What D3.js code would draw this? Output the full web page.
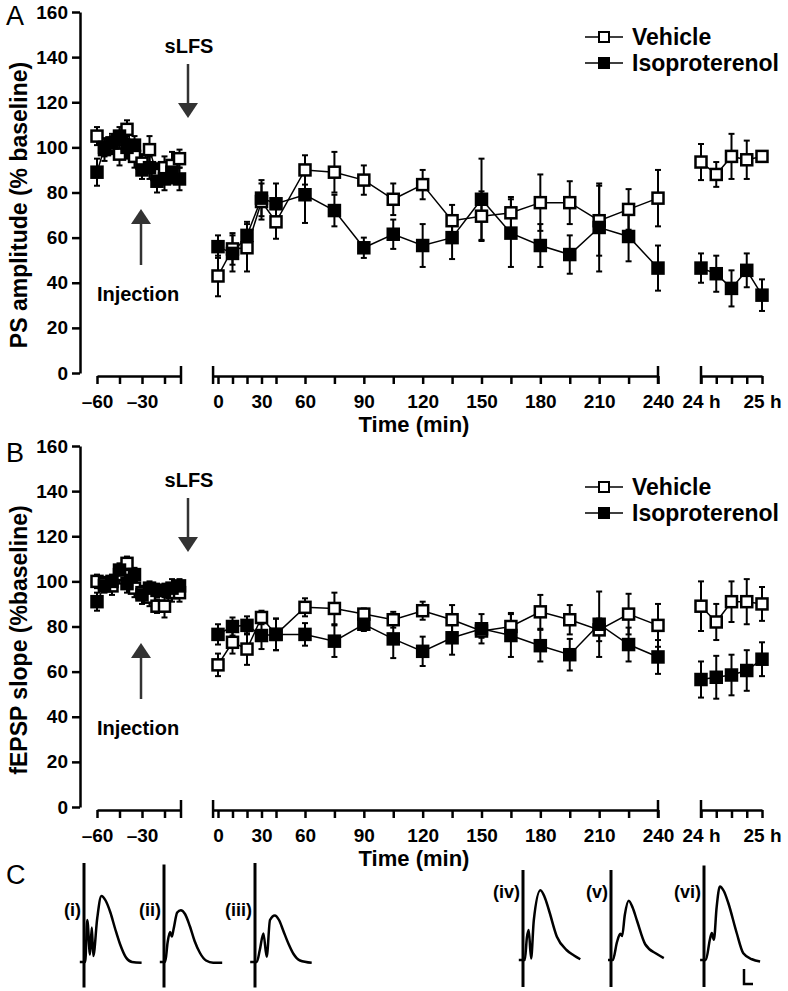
<!DOCTYPE html>
<html>
<head>
<meta charset="utf-8">
<script src="https://cdn.jsdelivr.net/npm/d3@7"></script>
<style>
  body { margin: 0; background: #fff; }
  text { font-family: "Liberation Sans", Arial, sans-serif; }
</style>
</head>
<body>
<svg id="fig" width="788" height="991"></svg>
<script>
// time points (min before injection, min after sLFS, hours after)
const baseTimes = [-60, -55, -50, -45, -40, -35, -30, -25, -20, -15, -10, -5];
const postTimes = [0, 10, 20, 30, 40, 60, 75, 90, 105, 120, 135, 150, 165, 180, 195, 210, 225, 240];
const dayTimes = [24, 24.25, 24.5, 24.75, 25];

// A: PS amplitude (% baseline)
const psVehBase = [105, 99, 101, 97, 108, 96, 93, 99, 88, 91, 92, 95];
const psVehBaseErr = [4, 5, 4, 5, 4, 5, 4, 6, 5, 5, 6, 4];
const psIsoBase = [89, 100, 102, 105, 100, 101, 90, 91, 85, 86, 89, 86];
const psIsoBaseErr = [6, 4, 4, 4, 5, 4, 4, 5, 5, 5, 5, 5];
const psVehPost = [43, 55, 55.5, 76, 67, 90, 89, 85.5, 77, 83.5, 67.5, 69.5, 71, 75.5, 75.5, 67.5, 72.5, 77.5];
const psVehPostErr = [9, 7, 10.5, 8, 7.5, 6.5, 9, 6.5, 7, 6.5, 7, 11, 7, 12.5, 9.5, 15.5, 9, 12.5];
const psIsoPost = [56, 53, 61, 77.5, 75, 79, 72, 55.5, 61.5, 56.5, 60, 77, 62, 56.5, 52.5, 64.5, 60.5, 46.5];
const psIsoPostErr = [5, 8, 6, 8, 9, 12.5, 7, 4.5, 6.5, 9.5, 9.5, 18, 15, 9.5, 8.5, 19.5, 11, 10];
const psVehDay = [93.5, 88, 96, 94.5, 96];
const psVehDayErr = [8, 5.5, 10, 8.5, 2];
const psIsoDay = [46.5, 44, 37.5, 45.5, 34.5];
const psIsoDayErr = [6.5, 8, 8, 7.5, 7];

// B: fEPSP slope (% baseline)
const epVehBase = [100, 99, 98, 103, 108, 97, 95, 93, 89, 89, 95, 95];
const epVehBaseErr = [3, 3, 4, 4, 3, 4, 3, 4, 3, 5, 4, 4];
const epIsoBase = [91, 98, 100, 105, 99, 103, 94, 97, 96, 96, 97, 98];
const epIsoBaseErr = [4, 3, 3, 3, 4, 3, 4, 3, 3, 3, 4, 3];
const epVehPost = [63, 73, 70, 84, 76.5, 88.5, 88, 85.5, 83, 87, 83, 78, 80, 86.5, 83, 78.5, 85.5, 80.5];
const epVehPostErr = [5, 5, 7, 3, 7, 4, 7, 2.5, 3.5, 4, 6.5, 3, 6, 7.5, 6.5, 5, 9, 9.5];
const epIsoPost = [76.5, 80, 80.5, 76, 76.5, 76.5, 73.5, 81, 74.5, 69, 75, 79, 76, 71.5, 67.5, 81, 72, 66.5];
const epIsoPostErr = [4.5, 4, 4, 6, 7, 5, 7, 3, 8.5, 6.5, 7.5, 6.5, 9.5, 7, 7, 14.5, 7.5, 7.5];
const epVehDay = [89, 82, 91, 91, 90];
const epVehDayErr = [11, 8, 9, 10, 7.5];
const epIsoDay = [56.5, 57.5, 58.5, 60.5, 65.5];
const epIsoDayErr = [8, 9.5, 9, 9, 7.5];

const yTicks = [0, 20, 40, 60, 80, 100, 120, 140, 160];
const baseTicks = [-60, -45, -30, -15];
const postTicks = [0, 10, 20, 30, 40, 60, 75, 90, 105, 120, 135, 150, 165, 180, 195, 210, 225, 240];
const dayTicks = [24, 24.25, 24.5, 24.75, 25];
const baseLabels = { "-60": "\u201360", "-30": "\u201330" };
const postLabels = [0, 30, 60, 90, 120, 150, 180, 210, 240];
const dayLabels = { "24": "24 h", "25": "25 h" };

// C: example traces, time (ms) vs voltage (mV)
const traceNames = ["(i)", "(ii)", "(iii)", "(iv)", "(v)", "(vi)"];
const traceT = [
  [-0.7, 0.2, 0.55, 1.0, 1.3, 1.55, 2.2, 2.9, 3.6, 4.4, 5.2, 6.0, 7.0, 8.0, 9.6],
  [-0.7, 0.2, 0.6, 1.0, 1.3, 1.6, 2.2, 2.8, 3.5, 4.3, 5.1, 6.0, 7.0, 8.2, 9.7],
  [-0.8, 0.3, 0.8, 1.4, 1.95, 2.5, 3.3, 4.0, 4.7, 5.6, 6.4, 7.5, 9.45],
  [-0.7, 0.3, 0.65, 0.95, 1.35, 1.8, 2.9, 3.6, 4.3, 5.65, 7.3, 8.5, 9.55],
  [-0.5, 0.3, 1.0, 1.55, 1.85, 2.3, 2.95, 3.6, 4.35, 5.7, 7.65, 8.8],
  [-0.65, 0.3, 1.0, 1.3, 1.65, 2.1, 2.65, 3.3, 4.05, 5.45, 6.55, 8.0, 9.35]
];
const traceV = [
  [0, 0, 2.8, 0.5, 2.3, 0.4, 2.9, 4.4, 4.1, 3.3, 2.2, 1.2, 0.3, 0, -0.05],
  [0, 0, 1.3, 2.0, 1.7, 2.2, 3.3, 3.45, 3.2, 2.4, 1.4, 0.6, 0.1, -0.05, -0.05],
  [0, 0, 0.8, 1.9, 0.35, 2.8, 3.1, 2.8, 2.1, 1.2, 0.55, 0.1, -0.05],
  [0, 0, 1.5, 2.0, 0.1, 2.65, 4.65, 4.2, 3.35, 1.55, 0.65, 0.3, 0.05],
  [0, 0, 1.2, 1.75, 1.6, 3.0, 3.95, 3.5, 2.6, 1.05, 0.4, 0.13],
  [0, 0, 1.4, 1.8, 1.35, 3.5, 4.9, 4.6, 3.8, 1.8, 0.45, 0.05, -0.1]
];
const stimTop = [6.6, 6.5, 6.6, 6.0, 6.0, 6.3];
const stimBottom = [-1.7, -1.7, -1.7, -1.8, -1.8, -1.8];

const svg = d3.select("#fig");
const FONT = "Liberation Sans, Arial, sans-serif";

const xBase = d3.scaleLinear().domain([-60, -4]).range([97, 181]);
const xPost = d3.scaleLinear().domain([0, 60, 240]).range([218, 305, 658]);
const xDay = d3.scaleLinear().domain([24, 25]).range([701, 762]);

function drawPanel(p) {
  const g = svg.append("g");
  const y = d3.scaleLinear().domain([0, 160]).range([p.y0, p.y0 - 361]);

  // y axis
  const ya = g.append("g").attr("transform", "translate(80,0)")
    .call(d3.axisLeft(y).tickValues(yTicks).tickSize(8).tickSizeOuter(0).tickPadding(4));
  ya.select(".domain").attr("stroke-width", 2.5);
  ya.selectAll(".tick line").attr("stroke-width", 2.5);
  ya.selectAll(".tick text").attr("font-size", 19).attr("font-weight", "bold").attr("font-family", FONT);

  g.append("text").attr("transform", `translate(27,${p.titleY}) rotate(-90)`)
    .attr("text-anchor", "middle").attr("font-size", 23).attr("font-weight", "bold")
    .text(p.yTitle);

  g.append("text").attr("x", 6).attr("y", p.letterY).attr("font-size", 27).text(p.letter);

  // x axis segments
  const axY = p.y0 + 3;
  const segs = [
    { sc: xBase, ticks: baseTicks, fmt: d => baseLabels[d] || "", capL: false, capR: true },
    { sc: xPost, ticks: postTicks, fmt: d => postLabels.includes(d) ? String(d) : "", capL: true, capR: true, lo: -3.4 },
    { sc: xDay, ticks: dayTicks, fmt: d => dayLabels[d] || "", capL: true, capR: false }
  ];
  segs.forEach(s => {
    const sc = s.lo !== undefined ? s.sc.copy().domain([s.lo, 0, 60, 240]).range([s.sc(s.lo), 218, 305, 658]) : s.sc;
    const ax = g.append("g").attr("transform", `translate(0,${axY})`)
      .call(d3.axisBottom(sc).tickValues(s.ticks).tickFormat(s.fmt).tickSize(8).tickSizeOuter(0).tickPadding(11));
    ax.select(".domain").attr("stroke-width", 2.5);
    ax.selectAll(".tick line").attr("stroke-width", 2.5);
    ax.selectAll(".tick text").attr("font-size", 19).attr("font-weight", "bold").attr("font-family", FONT);
    const r = sc.range();
    if (s.capL) ax.append("line").attr("x1", r[0]).attr("x2", r[0]).attr("y1", -10).attr("y2", 8).attr("stroke", "#000").attr("stroke-width", 2.5);
    if (s.capR) ax.append("line").attr("x1", r[r.length - 1]).attr("x2", r[r.length - 1]).attr("y1", -10).attr("y2", 8).attr("stroke", "#000").attr("stroke-width", 2.5);
  });

  g.append("text").attr("x", 414).attr("y", axY + 56).attr("text-anchor", "middle")
    .attr("font-size", 22).attr("font-weight", "bold").text("Time (min)");

  // series
  const groups = [
    { x: xBase, t: baseTimes },
    { x: xPost, t: postTimes },
    { x: xDay, t: dayTimes }
  ];
  const series = [
    { open: true, vals: [p.vb, p.vp, p.vd], errs: [p.vbe, p.vpe, p.vde] },
    { open: false, vals: [p.ib, p.ip, p.id], errs: [p.ibe, p.ipe, p.ide] }
  ];
  series.forEach(s => {
    groups.forEach((gr, k) => {
      const pts = gr.t.map((t, i) => ({ x: gr.x(t), y: y(s.vals[k][i]), lo: y(s.vals[k][i] - s.errs[k][i]), hi: y(s.vals[k][i] + s.errs[k][i]) }));
      const eg = g.append("g").attr("stroke", "#000").attr("stroke-width", 2);
      eg.selectAll(".eb").data(pts).join("line").attr("x1", d => d.x).attr("x2", d => d.x).attr("y1", d => d.lo).attr("y2", d => d.hi);
      eg.selectAll(".c1").data(pts).join("line").attr("x1", d => d.x - 3).attr("x2", d => d.x + 3).attr("y1", d => d.hi).attr("y2", d => d.hi);
      eg.selectAll(".c2").data(pts).join("line").attr("x1", d => d.x - 3).attr("x2", d => d.x + 3).attr("y1", d => d.lo).attr("y2", d => d.lo);
      g.append("path").datum(pts).attr("fill", "none").attr("stroke", "#000").attr("stroke-width", 1.5)
        .attr("d", d3.line().x(d => d.x).y(d => d.y));
    });
  });
  series.forEach(s => {
    groups.forEach((gr, k) => {
      g.append("g").selectAll("rect").data(gr.t.map((t, i) => [gr.x(t), y(s.vals[k][i])])).join("rect")
        .attr("x", d => d[0] - 5.5).attr("y", d => d[1] - 5.5).attr("width", 11).attr("height", 11)
        .attr("fill", s.open ? "#fff" : "#000").attr("stroke", "#000").attr("stroke-width", 2.5);
    });
  });

  // legend
  [["Vehicle", true], ["Isoproterenol", false]].forEach(([name, open], i) => {
    const ly = p.legY + i * 26;
    g.append("line").attr("x1", 585).attr("x2", 623).attr("y1", ly).attr("y2", ly).attr("stroke", "#000").attr("stroke-width", 1.5);
    g.append("rect").attr("x", 599).attr("y", ly - 5).attr("width", 10).attr("height", 10)
      .attr("fill", open ? "#fff" : "#000").attr("stroke", "#000").attr("stroke-width", 2);
    g.append("text").attr("x", 632).attr("y", ly + 8).attr("font-size", 23).attr("font-weight", "bold").text(name);
  });

  // annotations
  const arrow = (x, yTail, yTip) => {
    const dir = yTip > yTail ? 1 : -1;
    g.append("line").attr("x1", x).attr("x2", x).attr("y1", yTail).attr("y2", yTip - dir * 14).attr("stroke", "#333").attr("stroke-width", 2.5);
    g.append("path").attr("fill", "#333")
      .attr("d", `M${x - 10},${yTip - dir * 15}L${x + 10},${yTip - dir * 15}L${x},${yTip}Z`);
  };
  g.append("text").attr("x", 189).attr("y", p.y0 - 320).attr("text-anchor", "middle").attr("font-size", 20).attr("font-weight", "bold").text("sLFS");
  arrow(188, p.y0 - 309, p.y0 - 255);
  arrow(141, p.y0 - 108, p.y0 - 164);
  g.append("text").attr("x", 138).attr("y", p.y0 - 72).attr("text-anchor", "middle").attr("font-size", 20).attr("font-weight", "bold").text("Injection");
}

drawPanel({
  letter: "A", letterY: 25, y0: 373, titleY: 205, legY: 37, yTitle: "PS amplitude (% baseline)",
  vb: psVehBase, vbe: psVehBaseErr, vp: psVehPost, vpe: psVehPostErr, vd: psVehDay, vde: psVehDayErr,
  ib: psIsoBase, ibe: psIsoBaseErr, ip: psIsoPost, ipe: psIsoPostErr, id: psIsoDay, ide: psIsoDayErr
});
drawPanel({
  letter: "B", letterY: 462, y0: 807, titleY: 640, legY: 487, yTitle: "fEPSP slope (%baseline)",
  vb: epVehBase, vbe: epVehBaseErr, vp: epVehPost, vpe: epVehPostErr, vd: epVehDay, vde: epVehDayErr,
  ib: epIsoBase, ibe: epIsoBaseErr, ip: epIsoPost, ipe: epIsoPostErr, id: epIsoDay, ide: epIsoDayErr
});

// panel C
svg.append("text").attr("x", 6).attr("y", 884).attr("font-size", 27).text("C");
const traceOrigins = [[84, 962], [164, 962], [255, 962], [523, 960], [611, 960], [704, 960]];
const tScale = d3.scaleLinear().domain([0, 1]).range([0, 6]);
const vScale = d3.scaleLinear().domain([0, 1]).range([0, -15]);
traceNames.forEach((name, k) => {
  const [ox, oy] = traceOrigins[k];
  const tg = svg.append("g").attr("transform", `translate(${ox},${oy})`);
  tg.append("line").attr("x1", 0).attr("x2", 0).attr("y1", vScale(stimTop[k])).attr("y2", vScale(stimBottom[k]))
    .attr("stroke", "#000").attr("stroke-width", 3);
  tg.append("path").datum(traceT[k].map((t, i) => [t, traceV[k][i]]))
    .attr("fill", "none").attr("stroke", "#000").attr("stroke-width", 2.5)
    .attr("d", d3.line().x(d => tScale(d[0])).y(d => vScale(d[1])).curve(d3.curveMonotoneX));
  tg.append("text").attr("x", -3).attr("y", k < 3 ? -46 : -62).attr("text-anchor", "end")
    .attr("font-size", 18).attr("font-weight", "bold").text(name);
});
// scale bar
const sb = svg.append("g").attr("transform", "translate(744,984)");
sb.append("path").attr("fill", "none").attr("stroke", "#000").attr("stroke-width", 2.5)
  .attr("d", d3.line()([[0, vScale(1)], [0, 0], [tScale(1.5), 0]]));
</script>
</body>
</html>
